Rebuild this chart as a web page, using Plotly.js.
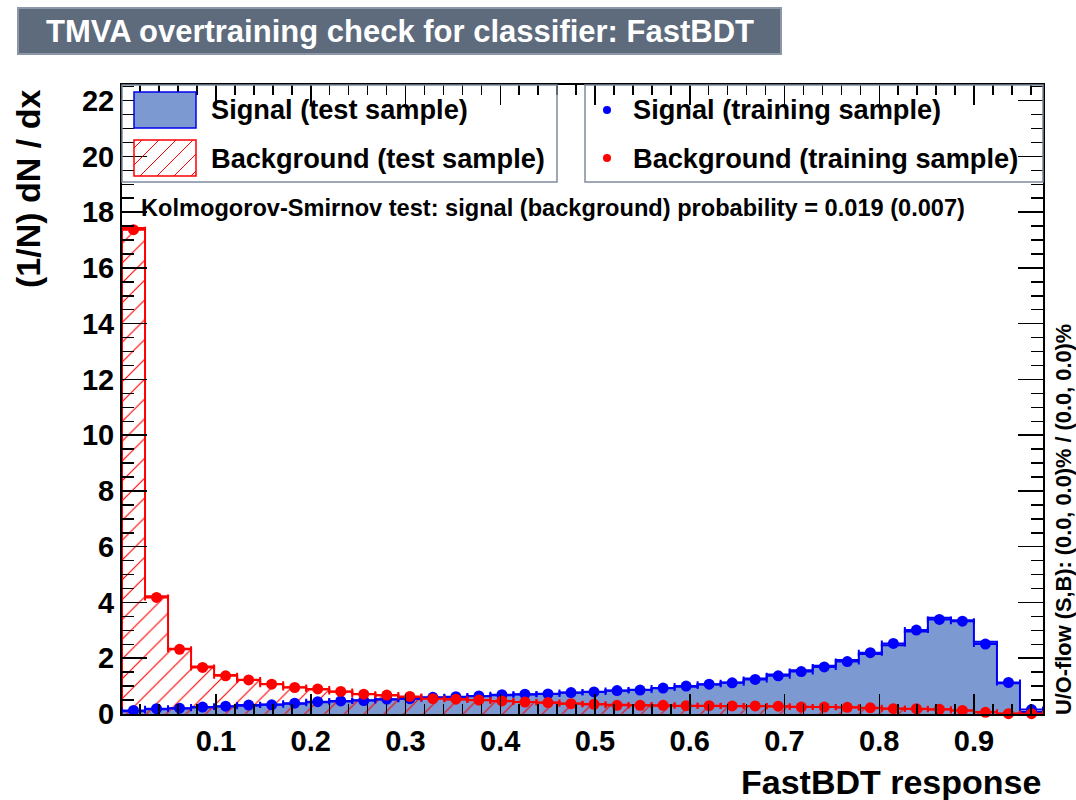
<!DOCTYPE html>
<html>
<head>
<meta charset="utf-8">
<script src="https://cdn.plot.ly/plotly-3.0.1.min.js"></script>
<style>
  html, body { margin: 0; padding: 0; background: #ffffff; }
  #chart { width: 1076px; height: 800px; }
</style>
</head>
<body>
<div id="chart"></div>
<script>
// Classifier response binning
const responseMin = 0.0008;
const responseMax = 0.9728;
const nBins = 40;

// Normalised signal response, test sample (filled histogram)
const signalTest = [
  0.10, 0.17, 0.20, 0.23, 0.27, 0.30, 0.34, 0.37, 0.42, 0.45,
  0.49, 0.52, 0.56, 0.58, 0.61, 0.64, 0.67, 0.70, 0.73, 0.76,
  0.80, 0.83, 0.87, 0.92, 0.98, 1.06, 1.13, 1.27, 1.42, 1.57,
  1.73, 1.94, 2.15, 2.47, 2.96, 3.45, 3.36, 2.59, 1.10, 0.07
];

// Normalised background response, test sample (hatched histogram)
const backgroundTest = [
  17.43, 4.22, 2.34, 1.70, 1.40, 1.23, 1.08, 0.96, 0.88, 0.80,
  0.72, 0.66, 0.61, 0.57, 0.52, 0.49, 0.46, 0.43, 0.40, 0.38,
  0.35, 0.33, 0.31, 0.30, 0.29, 0.29, 0.28, 0.28, 0.27, 0.26,
  0.25, 0.23, 0.21, 0.20, 0.18, 0.16, 0.13, 0.07, 0.02, 0.01
];

// Normalised signal response, training sample (points)
const signalTrain = [
  0.13, 0.19, 0.21, 0.25, 0.28, 0.32, 0.33, 0.39, 0.44, 0.47,
  0.48, 0.53, 0.55, 0.60, 0.62, 0.65, 0.69, 0.71, 0.72, 0.77,
  0.79, 0.84, 0.86, 0.93, 1.00, 1.07, 1.12, 1.24, 1.37, 1.52,
  1.69, 1.88, 2.20, 2.53, 3.01, 3.39, 3.33, 2.51, 1.13, 0.16
];

// Normalised background response, training sample (points)
const backgroundTrain = [
  17.37, 4.18, 2.32, 1.67, 1.37, 1.22, 1.07, 0.95, 0.90, 0.81,
  0.71, 0.68, 0.63, 0.55, 0.53, 0.50, 0.47, 0.43, 0.41, 0.37,
  0.35, 0.31, 0.31, 0.31, 0.30, 0.30, 0.29, 0.29, 0.28, 0.25,
  0.25, 0.24, 0.22, 0.19, 0.19, 0.17, 0.13, 0.06, 0.01, 0.01
];

const xTickValues = [0.1, 0.2, 0.3, 0.4, 0.5, 0.6, 0.7, 0.8, 0.9];
const xTickLabels = ['0.1', '0.2', '0.3', '0.4', '0.5', '0.6', '0.7', '0.8', '0.9'];
const yTickValues = [0, 2, 4, 6, 8, 10, 12, 14, 16, 18, 20, 22];
const yTickLabels = ['0', '2', '4', '6', '8', '10', '12', '14', '16', '18', '20', '22'];

const titleText = 'TMVA overtraining check for classifier: FastBDT';
const xTitle = 'FastBDT response';
const yTitle = '(1/N) dN / dx';
const ksText = 'Kolmogorov-Smirnov test: signal (background) probability = 0.019 (0.007)';
const flowText = 'U/O-flow (S,B): (0.0, 0.0)% / (0.0, 0.0)%';
const legendLabels = ['Signal (test sample)', 'Background (test sample)',
                      'Signal (training sample)', 'Background (training sample)'];

// Colours used by the TMVA style
const signalFill = '#7d99d1';
const signalLine = '#0000ee';
const bgLine = '#ff0000';
const titleBox = '#5d6b7d';
const titleBorder = '#8c98a7';
const legendBorder = '#7d8b9d';

// Bin geometry derived from the response range
const binWidth = (responseMax - responseMin) / nBins;
const edges = [];
for (let i = 0; i <= nBins; i++) edges.push(responseMin + i * binWidth);
const centers = [];
for (let i = 0; i < nBins; i++) centers.push(responseMin + (i + 0.5) * binWidth);
const halfWidths = centers.map(() => binWidth / 2);

// Outline of a histogram as a closed step path
function stepPath(values) {
  const xs = [edges[0]], ys = [0];
  for (let i = 0; i < nBins; i++) { xs.push(edges[i]); ys.push(values[i]); }
  xs.push(edges[nBins]); ys.push(values[nBins - 1]);
  xs.push(edges[nBins]); ys.push(0);
  return { x: xs, y: ys };
}

const sigStep = stepPath(signalTest);
const bgStep = stepPath(backgroundTest);

const traces = [
  {
    type: 'scatter', mode: 'lines', x: sigStep.x, y: sigStep.y,
    line: { shape: 'hv', color: signalLine, width: 2 },
    fill: 'tozeroy', fillcolor: signalFill, hoverinfo: 'skip', showlegend: false
  },
  {
    type: 'scatter', mode: 'lines', x: bgStep.x, y: bgStep.y,
    line: { shape: 'hv', color: bgLine, width: 2 },
    fill: 'tozeroy', fillcolor: 'rgba(0,0,0,0)',
    fillpattern: { shape: '/', fgcolor: bgLine, bgcolor: 'rgba(0,0,0,0)', size: 14, solidity: 0.08 },
    hoverinfo: 'skip', showlegend: false
  },
  {
    type: 'scatter', mode: 'markers', x: centers, y: signalTrain, cliponaxis: false,
    marker: { color: '#0000ff', size: 11 },
    error_x: { type: 'data', array: halfWidths, color: '#0000ff', thickness: 2, width: 3 },
    showlegend: false
  },
  {
    type: 'scatter', mode: 'markers', x: centers, y: backgroundTrain, cliponaxis: false,
    marker: { color: '#ff0000', size: 11 },
    error_x: { type: 'data', array: halfWidths, color: '#ff0000', thickness: 2, width: 3 },
    showlegend: false
  }
];

// Frame in pixels
const L = 122, R = 1043, T = 85, B = 714;
const px = x => (x - L) / (R - L);
const py = y => (B - y) / (B - T);

const font = (size, color) => ({ family: 'Liberation Sans, Arial, sans-serif', size: size, color: color || '#000000', weight: 'bold' });

const shapes = [
  // title box
  { type: 'rect', xref: 'paper', yref: 'paper', x0: px(18), x1: px(781), y0: py(54), y1: py(8),
    fillcolor: titleBox, line: { color: titleBorder, width: 2 }, layer: 'above' },
  // legend boxes
  { type: 'rect', xref: 'paper', yref: 'paper', x0: px(122), x1: px(557), y0: py(182), y1: py(85),
    fillcolor: 'rgba(0,0,0,0)', line: { color: legendBorder, width: 1.5 }, layer: 'above' },
  { type: 'rect', xref: 'paper', yref: 'paper', x0: px(585), x1: px(1043), y0: py(182), y1: py(85),
    fillcolor: 'rgba(0,0,0,0)', line: { color: legendBorder, width: 1.5 }, layer: 'above' },
  // legend swatches
  { type: 'rect', xref: 'paper', yref: 'paper', x0: px(134), x1: px(196), y0: py(128), y1: py(92),
    fillcolor: signalFill, line: { color: signalLine, width: 1.5 }, layer: 'above' },
  { type: 'rect', xref: 'paper', yref: 'paper', x0: px(134), x1: px(196), y0: py(176), y1: py(140),
    fillcolor: 'rgba(0,0,0,0)', line: { color: bgLine, width: 1.5 }, layer: 'above' },
  { type: 'circle', xref: 'paper', yref: 'paper', x0: px(603), x1: px(611), y0: py(114), y1: py(106),
    fillcolor: '#0000ff', line: { color: '#0000ff', width: 0 }, layer: 'above' },
  { type: 'circle', xref: 'paper', yref: 'paper', x0: px(603), x1: px(611), y0: py(162), y1: py(154),
    fillcolor: '#ff0000', line: { color: '#ff0000', width: 0 }, layer: 'above' }
];

// hatch lines inside the background swatch
(function () {
  const x0 = 134, x1 = 196, y0 = 140, y1 = 176, step = 17;
  for (let c = x0 + y0 + 8; c < x1 + y1; c += step) {
    const xa = Math.max(x0, c - y1), xb = Math.min(x1, c - y0);
    if (xb - xa < 1) continue;
    shapes.push({ type: 'line', xref: 'paper', yref: 'paper',
      x0: px(xa), y0: py(c - xa), x1: px(xb), y1: py(c - xb),
      line: { color: bgLine, width: 1 }, layer: 'above' });
  }
})();

const annotations = [
  { text: titleText, xref: 'paper', yref: 'paper', x: px(400), y: py(31), xanchor: 'center', yanchor: 'middle',
    showarrow: false, font: font(31, '#ffffff') },
  { text: yTitle, xref: 'paper', yref: 'paper', x: px(28), y: py(189), xanchor: 'center', yanchor: 'middle',
    textangle: -90, showarrow: false, font: font(34) },
  { text: xTitle, xref: 'paper', yref: 'paper', x: px(1043), y: py(782), xanchor: 'right', yanchor: 'middle',
    showarrow: false, font: font(34) },
  { text: ksText, xref: 'paper', yref: 'paper', x: px(139), y: py(208), xanchor: 'left', yanchor: 'middle',
    showarrow: false, font: font(23.6) },
  { text: flowText, xref: 'paper', yref: 'paper', x: px(1063), y: py(520), xanchor: 'center', yanchor: 'middle',
    textangle: -90, showarrow: false, font: font(21.8) },
  { text: legendLabels[0], xref: 'paper', yref: 'paper', x: px(209), y: py(110), xanchor: 'left', yanchor: 'middle',
    showarrow: false, font: font(27.2) },
  { text: legendLabels[1], xref: 'paper', yref: 'paper', x: px(209), y: py(158), xanchor: 'left', yanchor: 'middle',
    showarrow: false, font: font(27.2) },
  { text: legendLabels[2], xref: 'paper', yref: 'paper', x: px(631), y: py(110), xanchor: 'left', yanchor: 'middle',
    showarrow: false, font: font(27.2) },
  { text: legendLabels[3], xref: 'paper', yref: 'paper', x: px(631), y: py(158), xanchor: 'left', yanchor: 'middle',
    showarrow: false, font: font(27.2) }
];

const layout = {
  width: 1076, height: 800,
  margin: { l: L, r: 1076 - R, t: T, b: 800 - B, pad: 0 },
  paper_bgcolor: '#ffffff', plot_bgcolor: '#ffffff',
  showlegend: false,
  xaxis: {
    range: [responseMin, responseMax], tickvals: xTickValues, ticktext: xTickLabels,
    ticks: 'inside', ticklen: 20, tickwidth: 1.5, tickcolor: '#000000',
    minor: { dtick: 0.02, tick0: 0, ticks: 'inside', ticklen: 10, tickwidth: 1.5, tickcolor: '#000000' },
    showline: true, linecolor: '#000000', linewidth: 2, mirror: 'allticks',
    showgrid: false, zeroline: false, tickfont: font(29), fixedrange: true
  },
  yaxis: {
    range: [0, 22.56], tickvals: yTickValues, ticktext: yTickLabels,
    ticks: 'inside', ticklen: 25, tickwidth: 1.5, tickcolor: '#000000',
    minor: { dtick: 0.5, tick0: 0, ticks: 'inside', ticklen: 12, tickwidth: 1.5, tickcolor: '#000000' },
    showline: true, linecolor: '#000000', linewidth: 2, mirror: 'allticks',
    showgrid: false, zeroline: false, tickfont: font(29), fixedrange: true
  },
  shapes: shapes,
  annotations: annotations
};

Plotly.newPlot('chart', traces, layout, { displayModeBar: false, staticPlot: true });
</script>
</body>
</html>
